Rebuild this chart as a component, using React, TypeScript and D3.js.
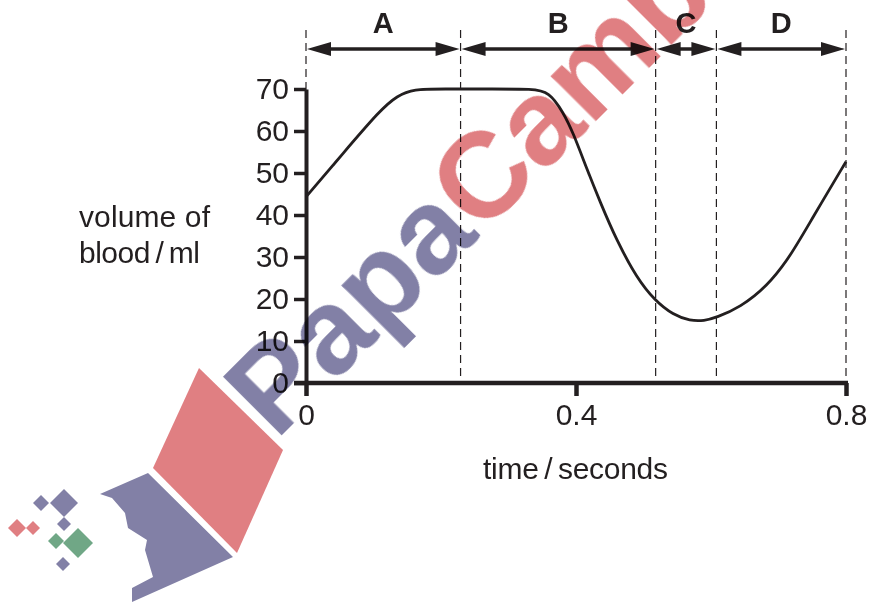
import React, { useEffect, useRef } from 'react';
import * as d3 from 'd3';

// curve: time in seconds, volume in ml
const times = [0, 0.055, 0.11, 0.135, 0.16, 0.2, 0.28, 0.335, 0.36, 0.381, 0.396, 0.416, 0.436, 0.46, 0.49, 0.517, 0.544, 0.569, 0.59, 0.608, 0.643, 0.683, 0.717, 0.751, 0.8];
const volumes = [44.3, 54.7, 65, 68.4, 70, 70, 70, 70, 69.4, 64.5, 59.5, 51, 43, 34, 25, 19.6, 16.2, 14.8, 14.8, 15.6, 18, 23, 30, 39.5, 52.7];

const yTicks = [0, 10, 20, 30, 40, 50, 60, 70];
const xTicks = [0, 0.4, 0.8];

const phaseNames = ['A', 'B', 'C', 'D'];
const phaseEdges = [0, 0.229, 0.518, 0.608, 0.8];

const yLabelLines = ['volume of', 'blood\u2009/\u2009ml'];
const yLabelWidths = [131, 121];
const xLabel = 'time\u2009/\u2009seconds';

// watermark pieces, page pixels
const redBlock = [[199, 368], [283, 450], [237, 553], [153, 468]];
const purpleBlock = [[100, 494], [148, 473], [233, 557], [132, 602], [132, 588], [153, 577], [145, 550], [147, 540], [128, 528], [125, 513], [112, 498]];
const diamonds = [
  { cx: 64, cy: 503, r: 14, fill: '#8280a6' },
  { cx: 41, cy: 503, r: 8, fill: '#8280a6' },
  { cx: 64, cy: 524, r: 7, fill: '#8280a6' },
  { cx: 17, cy: 528, r: 9, fill: '#e07f82' },
  { cx: 33, cy: 528, r: 7, fill: '#e07f82' },
  { cx: 56, cy: 541, r: 8, fill: '#6fa786' },
  { cx: 78, cy: 543, r: 15, fill: '#6fa786' },
  { cx: 63, cy: 564, r: 7, fill: '#8280a6' },
];

const ink = '#231f20';
const sans = '"Liberation Sans", Arial, sans-serif';

export default function App() {
  const ref = useRef<SVGSVGElement>(null);

  useEffect(() => {
    if (!ref.current) return;
    const svg = d3.select(ref.current);
    svg.selectAll('*').remove();

    const x = d3.scaleLinear().domain([0, 0.8]).range([306, 846]);
    const y = d3.scaleLinear().domain([0, 70]).range([383, 89]);

    svg.append('filter').attr('id', 'soft')
      .append('feGaussianBlur').attr('stdDeviation', 0.7);

    // watermark first, the chart is multiplied over it
    const mark = svg.append('g').attr('filter', 'url(#soft)');
    mark.append('polygon').attr('points', redBlock.join(' ')).attr('fill', '#e07f82');
    mark.append('polygon').attr('points', purpleBlock.join(' ')).attr('fill', '#8280a6');
    mark.selectAll('path.diamond')
      .data(diamonds)
      .enter()
      .append('path')
      .attr('class', 'diamond')
      .attr('d', d => `M${d.cx - d.r},${d.cy}L${d.cx},${d.cy - d.r}L${d.cx + d.r},${d.cy}L${d.cx},${d.cy + d.r}Z`)
      .attr('fill', d => d.fill);
    const word = mark.append('text')
      .attr('transform', 'translate(276,441) rotate(-45)')
      .style('font-family', sans)
      .style('font-weight', 700)
      .style('font-size', '121px');
    word.append('tspan').attr('fill', '#8280a6').text('Papa');
    word.append('tspan').attr('fill', '#e07f82').text('Camb');

    const chart = svg.append('g').style('mix-blend-mode', 'multiply');

    // phase boundaries
    chart.selectAll('line.edge')
      .data(phaseEdges)
      .enter()
      .append('line')
      .attr('class', 'edge')
      .attr('x1', d => x(d))
      .attr('x2', d => x(d))
      .attr('y1', 30)
      .attr('y2', 383)
      .attr('stroke', ink)
      .attr('stroke-width', 1.2)
      .attr('stroke-dasharray', '8 5');

    // axes
    const yAxis = chart.append('g')
      .attr('transform', `translate(${x(0)},0)`)
      .call(d3.axisLeft(y).tickValues(yTicks).tickSize(12).tickSizeOuter(0).tickPadding(5));
    const xAxis = chart.append('g')
      .attr('transform', `translate(0,${y(0)})`)
      .call(d3.axisBottom(x).tickValues(xTicks).tickSize(13).tickSizeOuter(0).tickPadding(8).tickFormat(d => (d === 0 ? '0' : String(d))));
    yAxis.selectAll('path').attr('stroke', ink).attr('stroke-width', 4);
    yAxis.selectAll('line').attr('stroke', ink).attr('stroke-width', 3.5);
    xAxis.selectAll('path').attr('stroke', 'none');
    xAxis.selectAll('line').attr('stroke', ink).attr('stroke-width', 4.5);
    [yAxis, xAxis].forEach(a => {
      a.selectAll('text')
        .attr('fill', ink)
        .style('font-family', sans)
        .style('font-size', '30px');
    });
    // base line runs out to the left of the y axis
    chart.append('line')
      .attr('x1', x(0) - 12).attr('x2', x(0.8) + 2)
      .attr('y1', y(0)).attr('y2', y(0))
      .attr('stroke', ink).attr('stroke-width', 4.5);

    // volume curve
    const line = d3.line<number>()
      .x((_, i) => x(times[i]))
      .y(d => y(d))
      .curve(d3.curveBasis);
    chart.append('path')
      .attr('d', line(volumes))
      .attr('fill', 'none')
      .attr('stroke', ink)
      .attr('stroke-width', 2.8);

    // double arrows with the phase letters above
    const arrowY = 49;
    phaseNames.forEach((name, i) => {
      const a = x(phaseEdges[i]) + 1;
      const b = x(phaseEdges[i + 1]) - 1;
      chart.append('line')
        .attr('x1', a + 10).attr('x2', b - 10)
        .attr('y1', arrowY).attr('y2', arrowY)
        .attr('stroke', ink).attr('stroke-width', 3.6);
      chart.append('path')
        .attr('d', `M${a},${arrowY}l24,-7v14Z M${b},${arrowY}l-24,-7v14Z`)
        .attr('fill', ink);
      chart.append('text')
        .attr('x', (a + b) / 2)
        .attr('y', 33)
        .attr('text-anchor', 'middle')
        .attr('fill', ink)
        .style('font-family', sans)
        .style('font-weight', 700)
        .style('font-size', '29px')
        .text(name);
    });

    // axis titles
    chart.selectAll('text.ylab')
      .data(yLabelLines)
      .enter()
      .append('text')
      .attr('class', 'ylab')
      .attr('x', 79)
      .attr('y', (_, i) => 227 + i * 36)
      .attr('textLength', (_, i) => yLabelWidths[i])
      .attr('fill', ink)
      .style('font-family', sans)
      .style('font-size', '30px')
      .text(d => d);
    chart.append('text')
      .attr('x', 483)
      .attr('y', 479)
      .attr('textLength', 185)
      .attr('fill', ink)
      .style('font-family', sans)
      .style('font-size', '30px')
      .text(xLabel);
  }, []);

  return (
    <svg
      ref={ref}
      width={870}
      height={603}
      style={{ position: 'absolute', left: 0, top: 0, background: '#fff' }}
    />
  );
}
